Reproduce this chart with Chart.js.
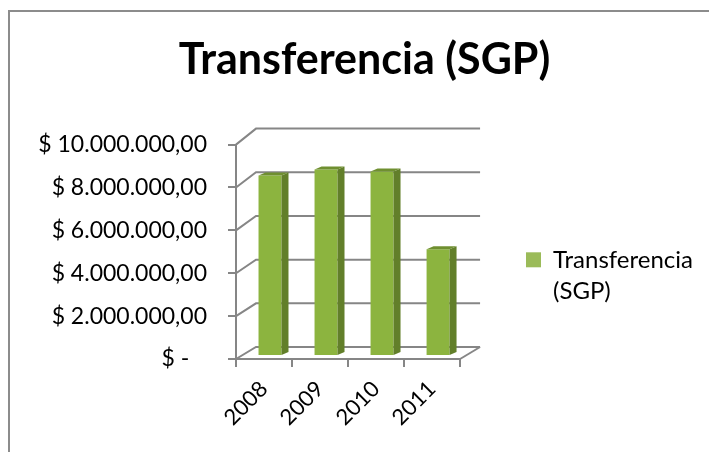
<!DOCTYPE html>
<html>
<head>
<meta charset="utf-8">
<script src="https://cdn.jsdelivr.net/npm/chart.js@4"></script>
<style>
  html, body { margin: 0; background: #fff; }
  #wrap { width: 709px; height: 452px; }
</style>
</head>
<body>
<div id="wrap"><canvas id="chart"></canvas></div>
<script>
const years = ['2008', '2009', '2010', '2011'];
const transfer = [8420000, 8700000, 8600000, 4980000];
const yTickLabels = ['$ -   ', '$ 2.000.000,00', '$ 4.000.000,00', '$ 6.000.000,00', '$ 8.000.000,00', '$ 10.000.000,00'];

const AXIS = '#868686';
const BAR = '#8cb43f';
const FONT = "Lato, 'Open Sans', sans-serif";

// fake 3D depth, px
const WALL_DX = 20, WALL_DY = -12, WALL_DY_TOP = -16;
const BAR_DX = 6, BAR_DY = -3;
const SIDE_DX = 7, SIDE_DY = -3;

Chart.defaults.font.family = FONT;
Chart.defaults.color = '#000';

// frame and back wall, under the bars
const wallPlugin = {
  id: 'wall',
  afterLayout(chart) {
    // legend and title sit off the default layout spots
    const lg = chart.legend;
    const w = lg.right - lg.left;
    lg.left = 516;
    lg.right = lg.left + w;
    lg.top += 53;
    lg.bottom += 53;
    chart.titleBlock.left = 20;
    chart.titleBlock.right = 709;
  },
  beforeDraw(chart) {
    const { ctx, scales: { y }, chartArea: a } = chart;
    ctx.save();
    ctx.strokeStyle = '#8c8c8c';
    ctx.lineWidth = 2;
    ctx.beginPath();
    ctx.moveTo(9, 452);
    ctx.lineTo(9, 11);
    ctx.lineTo(709, 11);
    ctx.stroke();

    ctx.strokeStyle = AXIS;
    ctx.lineWidth = 2;
    y.ticks.forEach(t => {
      const py = y.getPixelForValue(t.value);
      // the back wall is slightly taller than the front, perspective
      const dy = WALL_DY + (WALL_DY_TOP - WALL_DY) * (t.value / y.max);
      ctx.beginPath();
      ctx.moveTo(a.left, py);
      ctx.lineTo(a.left + WALL_DX, py + dy);
      ctx.lineTo(a.right + WALL_DX, py + dy);
      ctx.stroke();
    });
    ctx.beginPath();
    ctx.moveTo(a.right, a.bottom);
    ctx.lineTo(a.right + WALL_DX, a.bottom + WALL_DY);
    ctx.stroke();
    ctx.restore();
  },
};

// shifts the bars back on the floor and adds side and top faces
const depthPlugin = {
  id: 'depth',
  beforeDatasetDraw(chart) {
    chart.ctx.save();
    chart.ctx.translate(BAR_DX, BAR_DY);
  },
  afterDatasetDraw(chart, args) {
    const { ctx } = chart;
    args.meta.data.forEach(bar => {
      const { x, y, base, width } = bar.getProps(['x', 'y', 'base', 'width']);
      const l = x - width / 2, r = x + width / 2;
      ctx.fillStyle = '#627f2a';
      ctx.beginPath();
      ctx.moveTo(r, y);
      ctx.lineTo(r + SIDE_DX, y + SIDE_DY);
      ctx.lineTo(r + SIDE_DX, base + SIDE_DY);
      ctx.lineTo(r, base);
      ctx.closePath();
      ctx.fill();
      ctx.fillStyle = '#6f8f30';
      ctx.beginPath();
      ctx.moveTo(l, y);
      ctx.lineTo(l + SIDE_DX, y + SIDE_DY);
      ctx.lineTo(r + SIDE_DX, y + SIDE_DY);
      ctx.lineTo(r, y);
      ctx.closePath();
      ctx.fill();
    });
    ctx.restore();
  },
};

new Chart(document.getElementById('chart'), {
  type: 'bar',
  data: {
    labels: years,
    datasets: [{
      label: 'Transferencia (SGP)',
      data: transfer,
      backgroundColor: BAR,
      barPercentage: 0.41,
      categoryPercentage: 1,
    }],
  },
  options: {
    responsive: true,
    maintainAspectRatio: false,
    animation: false,
    layout: { padding: { top: 0, left: 36, right: 62, bottom: 0 } },
    plugins: {
      title: {
        display: true,
        text: 'Transferencia (SGP)',
        font: { size: 43, weight: 'bold' },
        padding: { top: 34, bottom: 59 },
      },
      legend: {
        position: 'right',
        maxWidth: 190,
        onClick: null,
        labels: {
          boxWidth: 15,
          boxHeight: 15,
          padding: 10,
          font: { size: 24, lineHeight: 1.3 },
          generateLabels: () => [{
            text: ['Transferencia', '(SGP)'],
            fillStyle: '#9bbb59',
            lineWidth: 0,
            strokeStyle: 'transparent',
          }],
        },
      },
      tooltip: { enabled: false },
    },
    scales: {
      x: {
        border: { color: AXIS, width: 2 },
        grid: { drawOnChartArea: false, color: AXIS, lineWidth: 2, tickLength: 8 },
        ticks: { minRotation: 45, maxRotation: 45, font: { size: 22 }, padding: 9 },
        afterFit(scale) { scale.height = 93; },
      },
      y: {
        min: 0,
        max: 10000000,
        border: { color: AXIS, width: 2 },
        grid: { drawOnChartArea: false, color: AXIS, lineWidth: 2, tickLength: 8 },
        ticks: {
          stepSize: 2000000,
          font: { size: 23 },
          padding: 21,
          callback: (v, i) => yTickLabels[i],
        },
        afterFit(scale) { scale.width = 200; },
      },
    },
  },
  plugins: [wallPlugin, depthPlugin],
});
</script>
</body>
</html>
